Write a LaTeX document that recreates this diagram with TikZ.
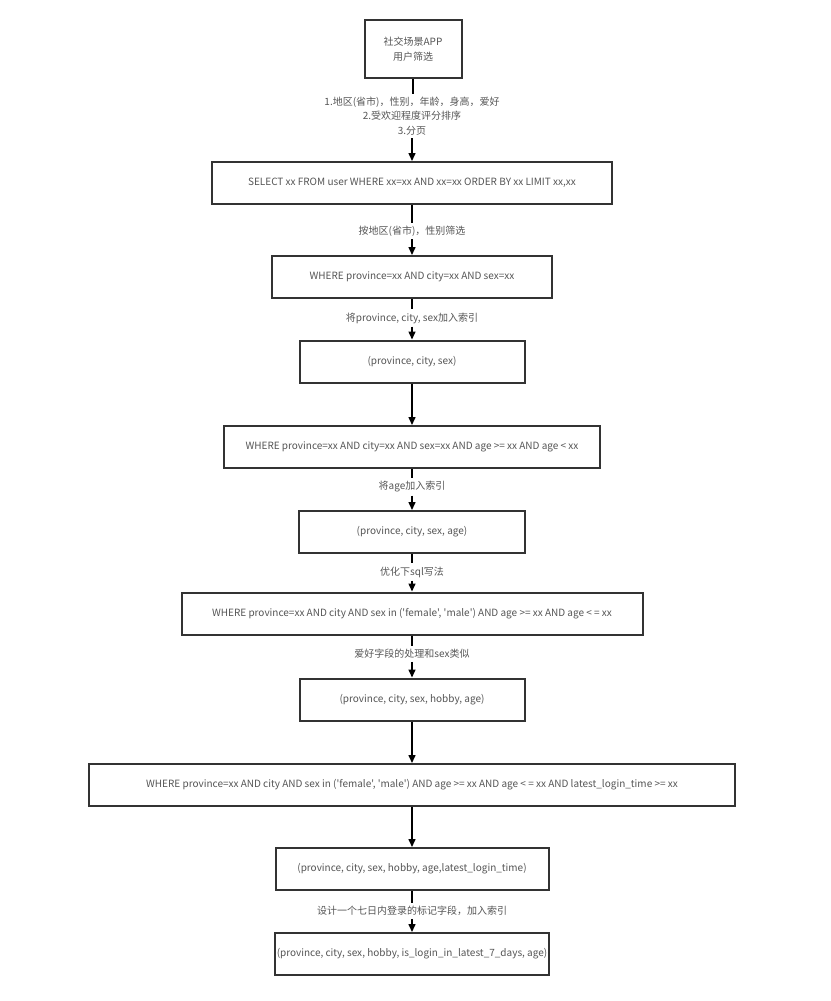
\documentclass[tikz,border=0pt]{standalone}
\usepackage{fontspec}
\setmainfont{Noto Sans CJK SC}[Ligatures=TeXOff]
\usetikzlibrary{arrows.meta}
\definecolor{txt}{HTML}{555555}
\definecolor{brd}{HTML}{333333}
\tikzset{
  box/.style={draw=brd, line width=2pt, fill=white, text=txt, minimum height=42pt, inner sep=0pt, font=\fontsize{10}{15}\selectfont, align=center},
  lbl/.style={text=txt, inner sep=3pt, font=\fontsize{10}{14.5}\selectfont, align=center},
  conn/.style={draw=black, line width=1.5pt},
  arr/.style={conn, -{Triangle[length=8pt,width=7pt]}}
}
\begin{document}
\begin{tikzpicture}[x=1pt,y=-1pt]
\useasboundingbox (0,0) rectangle (830,1001);
\node[box, minimum width=97pt, minimum height=58pt] (b1) at (413,49) {社交场景APP\\用户筛选};
\node[lbl] (l1) at (412,116) {1.地区(省市)，性别，年龄，身高，爱好\\2.受欢迎程度评分排序\\3.分页};
\node[box, minimum width=400pt] (b2) at (412,183) {SELECT xx FROM user WHERE xx=xx AND xx=xx ORDER BY xx LIMIT xx,xx};
\node[lbl] (l2) at (412,231) {按地区(省市)，性别筛选};
\node[box, minimum width=280pt] (b3) at (412,277) {WHERE province=xx AND city=xx AND sex=xx};
\node[lbl] (l3) at (412,318) {将province, city, sex加入索引};
\node[box, minimum width=225pt] (b4) at (412,361.5) {(province, city, sex)};
\node[box, minimum width=376pt] (b5) at (412,447) {WHERE province=xx AND city=xx AND sex=xx AND age >= xx AND age < xx};
\node[lbl] (l5) at (412,487) {将age加入索引};
\node[box, minimum width=226pt] (b6) at (412,532) {(province, city, sex, age)};
\node[lbl] (l6) at (412,572) {优化下sql写法};
\node[box, minimum width=461pt] (b7) at (412,613.5) {WHERE province=xx AND city AND sex in ('female', 'male') AND age >= xx AND age < = xx};
\node[lbl] (l7) at (412,654) {爱好字段的处理和sex类似};
\node[box, minimum width=225pt] (b8) at (412,699.5) {(province, city, sex, hobby, age)};
\node[box, minimum width=646pt] (b9) at (412,785) {WHERE province=xx AND city AND sex in ('female', 'male') AND age >= xx AND age < = xx AND latest\_login\_time >= xx};
\node[box, minimum width=273pt] (b10) at (412,869) {(province, city, sex, hobby, age,latest\_login\_time)};
\node[lbl] (l10) at (412,911) {设计一个七日内登录的标记字段，加入索引};
\node[box, minimum width=274pt] (b11) at (412,954) {(province, city, sex, hobby, is\_login\_in\_latest\_7\_days, age)};
\draw[conn] (b1.south) -- (b1.south |- l1.north);
\draw[arr] (b2.north |- l1.south) -- (b2.north);
\draw[conn] (b2) -- (l2);
\draw[arr] (l2) -- (b3);
\draw[conn] (b3) -- (l3);
\draw[arr] (l3) -- (b4);
\draw[arr] (b4) -- (b5);
\draw[conn] (b5) -- (l5);
\draw[arr] (l5) -- (b6);
\draw[conn] (b6) -- (l6);
\draw[arr] (l6) -- (b7);
\draw[conn] (b7) -- (l7);
\draw[arr] (l7) -- (b8);
\draw[arr] (b8) -- (b9);
\draw[arr] (b9) -- (b10);
\draw[conn] (b10) -- (l10);
\draw[arr] (l10) -- (b11);
\end{tikzpicture}
\end{document}
